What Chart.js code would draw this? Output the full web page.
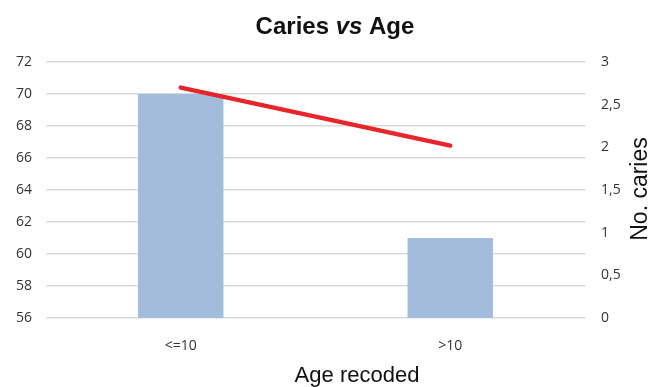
<!DOCTYPE html>
<html>
<head>
<meta charset="utf-8">
<script src="https://cdn.jsdelivr.net/npm/chart.js@4"></script>
<style>
  html, body { margin: 0; padding: 0; background: #ffffff; }
  #wrap { width: 654px; height: 387px; }
</style>
</head>
<body>
<div id="wrap"><canvas id="caries-viz"></canvas></div>
<script>
// Age groups and their values
var ageGroups = ['<=10', '>10'];
var barValues = [70, 61];          // left axis (56 - 72)
var cariesValues = [2.7, 2.02];    // right axis, No. caries (0 - 3)

// Draws the title (with italic "vs") and the two axis titles
var titlesPlugin = {
	id: 'titles',
	afterDraw: function(chart) {
		var ctx = chart.ctx;
		ctx.save();
		ctx.fillStyle = '#111111';
		ctx.textBaseline = 'middle';

		// main title: "Caries vs Age"
		var parts = [
			{ t: 'Caries ', f: 'bold 24px "Liberation Sans", Arial, sans-serif' },
			{ t: 'vs', f: 'italic bold 24px "Liberation Sans", Arial, sans-serif' },
			{ t: ' Age', f: 'bold 24px "Liberation Sans", Arial, sans-serif' }
		];
		var total = 0;
		parts.forEach(function(p) { ctx.font = p.f; p.w = ctx.measureText(p.t).width; total += p.w; });
		var x = 335 - total / 2;
		ctx.textAlign = 'left';
		parts.forEach(function(p) { ctx.font = p.f; ctx.fillText(p.t, x, 27); x += p.w; });

		// x axis title
		ctx.font = '22px "Liberation Sans", Arial, sans-serif';
		ctx.textAlign = 'center';
		ctx.fillText('Age recoded', 357, 376);

		// right axis title
		ctx.translate(641, 189);
		ctx.rotate(-Math.PI / 2);
		ctx.font = '23px "Liberation Sans", Arial, sans-serif';
		ctx.fillText('No. caries', 0, 0);
		ctx.restore();
	}
};

var tickFont = { family: '"Open Sans", sans-serif', size: 14 };

var cfg = {
	data: {
		labels: ageGroups,
		datasets: [
			{
				type: 'line',
				label: 'No. caries',
				data: cariesValues,
				yAxisID: 'y1',
				borderColor: '#e8252b',
				borderWidth: 4.5,
				borderCapStyle: 'round',
				pointRadius: 0,
				tension: 0,
				order: 0
			},
			{
				type: 'bar',
				label: 'Age recoded',
				data: barValues,
				yAxisID: 'y',
				backgroundColor: '#a3bcdc',
				barPercentage: 0.317,
				categoryPercentage: 1,
				order: 1
			}
		]
	},
	options: {
		responsive: true,
		maintainAspectRatio: false,
		animation: false,
		layout: { padding: { top: 62, left: 0, right: 0, bottom: 0 } },
		plugins: {
			legend: { display: false },
			title: { display: false },
			tooltip: { enabled: false }
		},
		scales: {
			x: {
				grid: { display: false },
				border: { display: false },
				ticks: { color: '#333333', font: tickFont, padding: 12 },
				afterFit: function(s) { s.height = 69; }
			},
			y: {
				position: 'left',
				min: 56, max: 72,
				grid: { color: '#d9d9d9', lineWidth: 1.5, drawTicks: false },
				border: { display: false },
				ticks: { stepSize: 2, color: '#333333', font: tickFont, padding: 14 },
				afterFit: function(s) { s.width = 46; }
			},
			y1: {
				position: 'right',
				min: 0, max: 3,
				grid: { display: false, drawTicks: false },
				border: { display: false },
				ticks: {
					stepSize: 0.5, color: '#333333', font: tickFont, padding: 16,
					callback: function(v) { return String(v).replace('.', ','); }
				},
				afterFit: function(s) { s.width = 69; }
			}
		}
	},
	plugins: [titlesPlugin]
};

new Chart(document.getElementById('caries-viz'), cfg);
</script>
</body>
</html>
